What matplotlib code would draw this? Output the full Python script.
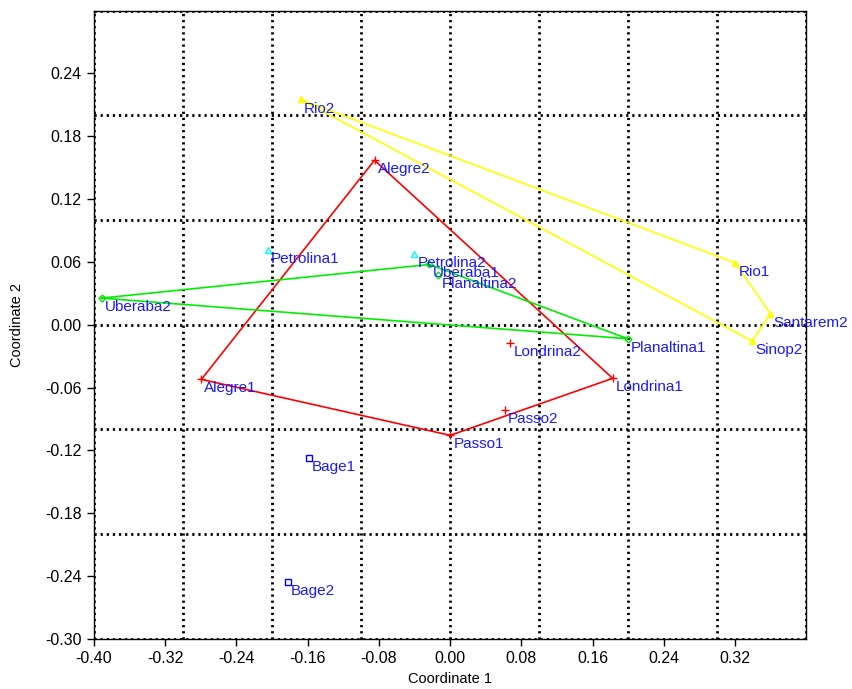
import matplotlib
matplotlib.use("Agg")
import matplotlib.pyplot as plt
import numpy as np

plt.rcParams['font.family'] = ['Liberation Sans', 'DejaVu Sans']

# sample scores
names = ['Rio1', 'Rio2', 'Santarem2', 'Sinop2',
         'Alegre1', 'Alegre2', 'Passo1', 'Passo2', 'Londrina1', 'Londrina2',
         'Uberaba1', 'Uberaba2', 'Planaltina1', 'Planaltina2',
         'Petrolina1', 'Petrolina2',
         'Bage1', 'Bage2']
coord1 = [0.320, -0.168, 0.3595, 0.339,
          -0.2794, -0.085, 0.000, 0.0613, 0.1824, 0.0674,
          -0.0233, -0.3915, 0.1993, -0.0135,
          -0.205, -0.0404,
          -0.1589, -0.1825]
coord2 = [0.059, 0.215, 0.0105, -0.0156,
          -0.0522, 0.157, -0.1056, -0.0818, -0.0512, -0.0175,
          0.0575, 0.0254, -0.0134, 0.0477,
          0.0716, 0.0671,
          -0.1269, -0.2452]
group = [0, 0, 0, 0,
         1, 1, 1, 1, 1, 1,
         2, 2, 2, 2,
         3, 3,
         4, 4]

colors = ['#ffff00', '#ff0000', '#00ee00', '#00ffff', '#0000ff']
markers = ['^', '+', 'D', '^', 's']
filled = [True, True, False, False, False]
msize = [4, 6, 3.5, 5, 5]


def hull(pts):
    pts = sorted(set(pts))
    if len(pts) < 3:
        return []
    def cross(o, a, b):
        return (a[0]-o[0])*(b[1]-o[1]) - (a[1]-o[1])*(b[0]-o[0])
    lower, upper = [], []
    for p in pts:
        while len(lower) >= 2 and cross(lower[-2], lower[-1], p) <= 0:
            lower.pop()
        lower.append(p)
    for p in reversed(pts):
        while len(upper) >= 2 and cross(upper[-2], upper[-1], p) <= 0:
            upper.pop()
        upper.append(p)
    h = lower[:-1] + upper[:-1]
    return h + [h[0]]


fig = plt.figure(figsize=(8.53, 6.89), dpi=100)
ax = fig.add_axes([0.1102, 0.0726, 0.8347, 0.9115])

x = np.array(coord1)
y = np.array(coord2)
g = np.array(group)

dots = dict(color='black', lw=2.0, linestyle=(0, (0.8, 1.4)), dash_capstyle='butt', zorder=1)
for v in [-0.3, -0.2, -0.1, 0.0, 0.1, 0.2, 0.3]:
    ax.axvline(v, **dots)
for v in [-0.2, -0.1, 0.0, 0.1, 0.2]:
    ax.axhline(v, **dots)
ax.axvline(-0.40, **dots)
ax.axvline(0.3995, **dots)
ax.axhline(-0.30, **dots)
ax.axhline(0.2995, **dots)

for k in range(5):
    sel = g == k
    h = hull(list(zip(x[sel], y[sel])))
    if h:
        hx, hy = zip(*h)
        ax.plot(hx, hy, color=colors[k], lw=1.2, zorder=2)
    ax.plot(x[sel], y[sel], linestyle='none', marker=markers[k], ms=msize[k],
            mec=colors[k], mfc=colors[k] if filled[k] else 'none', mew=1.0, zorder=3)

for n, a, b in zip(names, x, y):
    ax.annotate(n, (a, b), xytext=(2.2, -6.5), textcoords='offset points',
                ha='left', va='center', color='#1a1aff', fontsize=11, zorder=4)

ax.set_xlim(-0.40, 0.3995)
ax.set_ylim(-0.30, 0.2995)
ax.set_xticks(np.arange(-0.40, 0.33, 0.08))
ax.set_yticks(np.arange(-0.30, 0.25, 0.06))
ax.set_xticklabels(['%.2f' % t for t in np.arange(-0.40, 0.33, 0.08)])
ax.set_yticklabels(['%.2f' % t for t in np.arange(-0.30, 0.25, 0.06)])
ax.tick_params(direction='out', length=5, width=1, labelsize=11.5, pad=4)
for s in ax.spines.values():
    s.set_linewidth(1.0)

ax.set_xlabel('Coordinate 1', fontsize=10.5)
ax.set_ylabel('Coordinate 2', fontsize=10.5)
ax.xaxis.set_label_coords(0.5, -0.052)
ax.yaxis.set_label_coords(-0.098, 0.5)

fig.savefig('out.png', dpi=100)
